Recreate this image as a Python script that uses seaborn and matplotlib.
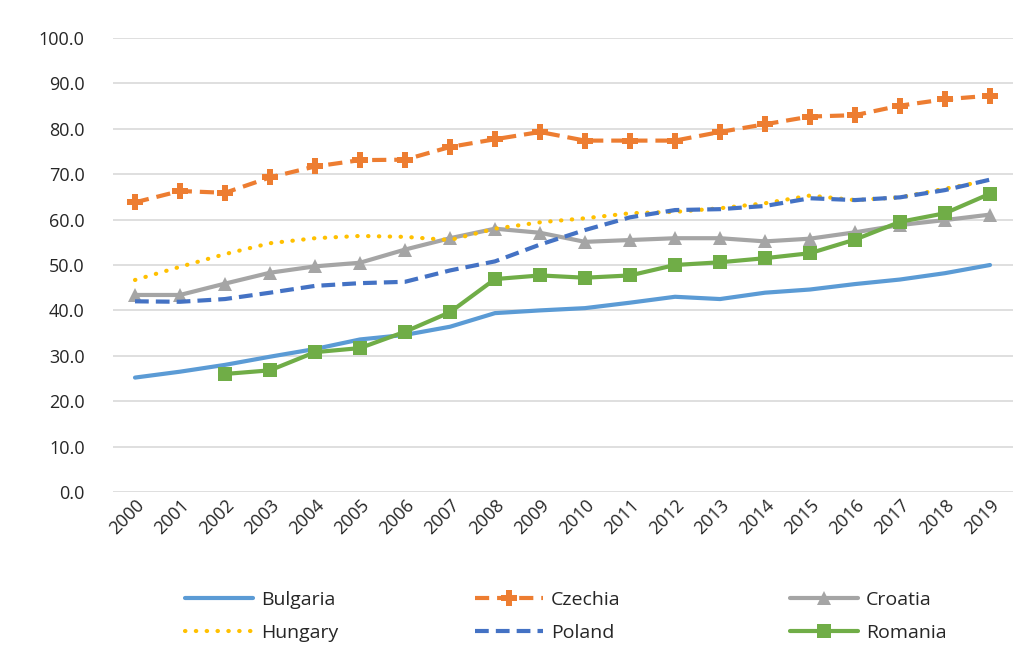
import numpy as np
import pandas as pd
import matplotlib
matplotlib.use("Agg")
import matplotlib.pyplot as plt
import seaborn as sns

years = [str(y) for y in range(2000, 2020)]
bulgaria = [25.2, 26.5, 28.0, 29.8, 31.5, 33.6, 34.6, 36.4, 39.4, 40.0,
            40.5, 41.7, 43.0, 42.5, 43.9, 44.6, 45.8, 46.8, 48.2, 50.0]
czechia = [63.8, 66.3, 65.9, 69.3, 71.7, 73.1, 73.2, 76.0, 77.7, 79.3,
           77.4, 77.4, 77.4, 79.3, 81.0, 82.7, 83.0, 85.1, 86.5, 87.3]
croatia = [43.4, 43.4, 45.9, 48.3, 49.7, 50.5, 53.4, 55.9, 58.0, 57.1,
           55.1, 55.5, 55.9, 55.9, 55.2, 55.8, 57.2, 58.8, 59.9, 61.1]
hungary = [46.7, 49.6, 52.4, 54.8, 55.9, 56.4, 56.2, 55.5, 58.0, 59.4,
           60.3, 61.4, 61.7, 62.5, 63.6, 65.3, 64.3, 64.9, 66.8, 68.7]
poland = [42.0, 41.9, 42.5, 43.9, 45.4, 46.0, 46.3, 48.8, 50.8, 54.5,
          57.7, 60.5, 62.1, 62.3, 63.0, 64.7, 64.3, 64.9, 66.5, 68.8]
romania = [np.nan, np.nan, 26.0, 26.8, 30.8, 31.7, 35.3, 39.6, 46.9, 47.7,
           47.2, 47.7, 50.0, 50.6, 51.5, 52.6, 55.6, 59.5, 61.4, 65.7]
yticks = [0, 10, 20, 30, 40, 50, 60, 70, 80, 90, 100]

sns.set_theme(style="white")
plt.rcParams['font.family'] = ['Open Sans', 'DejaVu Sans']

fig = plt.figure(figsize=(10.34, 6.5), dpi=100)
ax = fig.add_axes([112.5 / 1034, 1 - 492 / 650, 900 / 1034, 454 / 650])

x = np.arange(len(years))
series = [
    ("Bulgaria", bulgaria, "#5B9BD5", "-", None, 0),
    ("Czechia", czechia, "#ED7D31", (0, (3.4, 1.9)), "P", 11),
    ("Croatia", croatia, "#A5A5A5", "-", "^", 10),
    ("Hungary", hungary, "#FFC000", (0, (0.1, 2.5)), None, 0),
    ("Poland", poland, "#4472C4", (0, (3.3, 1.7)), None, 0),
    ("Romania", romania, "#70AD47", "-", "s", 10),
]
handles = {}
for name, vals, col, ls, mk, ms in series:
    df = pd.DataFrame({"x": x, "y": vals}).dropna()
    sns.lineplot(data=df, x="x", y="y", ax=ax, color=col, linewidth=3.0,
                 marker=mk if mk else None, markersize=ms,
                 markeredgewidth=0, label=name, zorder=3)
    ln = ax.get_lines()[-1]
    ln.set_linestyle(ls)
    if name == "Hungary":
        ln.set_dash_capstyle("round")
    handles[name] = ln

ax.set_xlim(-0.5, len(years) - 0.5)
ax.set_ylim(0, 100)
ax.set_yticks(yticks)
ax.set_yticklabels([f"{v:.1f}" for v in yticks])
ax.set_xticks(x)
ax.set_xticklabels(years, rotation=45, ha="right", rotation_mode="anchor")
ax.tick_params(axis="y", labelsize=13, colors="#262626", length=0, pad=20)
ax.tick_params(axis="x", labelsize=13, colors="#262626", length=0, pad=3)
ax.grid(axis="y", color="#D9D9D9", linewidth=1.2, zorder=0)
ax.set_axisbelow(True)
for s in ax.spines.values():
    s.set_visible(False)
ax.set_xlabel("")
ax.set_ylabel("")
ax.get_legend().remove()

columns = [(["Bulgaria", "Hungary"], 185), (["Czechia", "Poland"], 475),
           (["Croatia", "Romania"], 790)]
for names, xpix in columns:
    fig.legend([handles[n] for n in names], names, loc="upper left",
               bbox_to_anchor=(xpix / 1034, 1 - 591 / 650), frameon=False,
               fontsize=14, handlelength=3.5, labelspacing=0.78,
               handletextpad=0.4, borderpad=0, borderaxespad=0,
               labelcolor="#262626")

fig.savefig("out.png", dpi=100)
